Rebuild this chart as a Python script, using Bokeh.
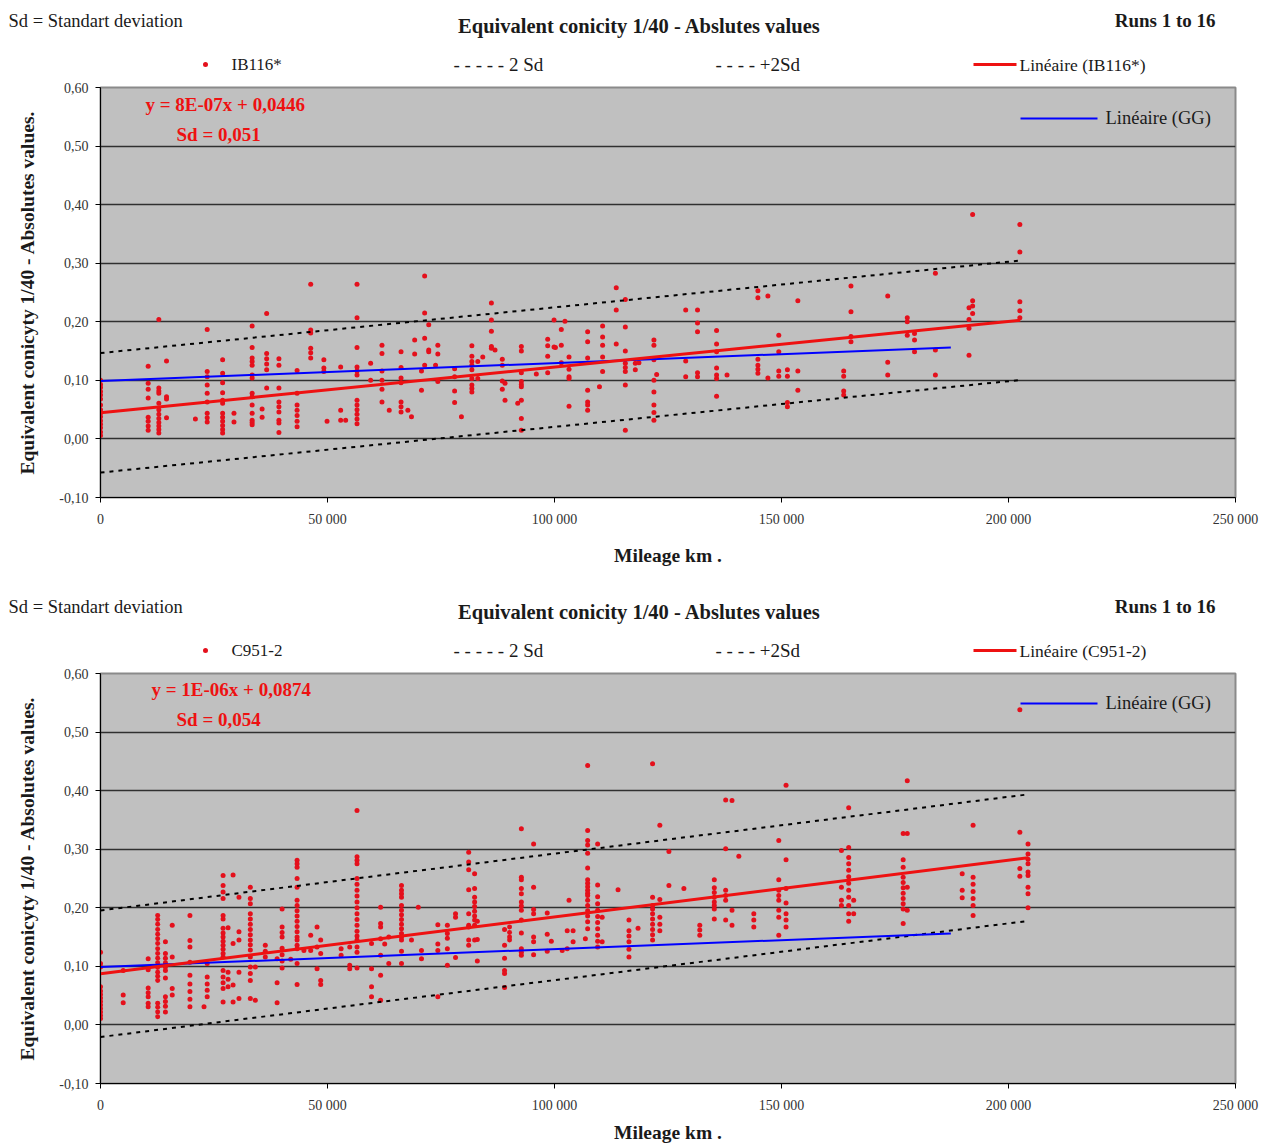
from bokeh.plotting import figure
from bokeh.models import Label, FixedTicker, CustomJSTickFormatter, ColumnDataSource
from bokeh.core.properties import value
from bokeh.layouts import column
from bokeh.embed import file_html
from bokeh.resources import INLINE

# ---------------- data ----------------
x_ticks = [0, 50000, 100000, 150000, 200000, 250000]
y_ticks = [-0.1, 0.0, 0.1, 0.2, 0.3, 0.4, 0.5, 0.6]

# IB116* : mileage stations (km) and the conicity values measured there
ib116_km = [0, 10500, 12850, 14540, 20900, 23500, 26900, 29400, 33400, 35600, 36600, 39300,
            43300, 46300, 49200, 49900, 52900, 54000, 56500, 59500, 62000, 63600, 66200,
            67700, 68500, 69200, 70700, 71400, 72300, 73800, 74300, 78000, 79500, 81800,
            83100, 84200, 86100, 86900, 88500, 89100, 91900, 92700, 96000, 98500, 99900,
            100200, 101500, 102300, 103200, 107300, 109900, 110600, 113600, 115600, 117800,
            118600, 121900, 122500, 128900, 131500, 135700, 138000, 144800, 147000, 149400,
            151300, 153600, 163700, 165300, 173400, 177700, 179300, 183900, 191300, 192100,
            202500]
ib116_vals = [
    [0.100, 0.093, 0.088, 0.081, 0.075, 0.068, 0.058, 0.050, 0.044, 0.038, 0.031, 0.025, 0.019, 0.012, 0.006],
    [0.124, 0.095, 0.085, 0.070, 0.037, 0.030, 0.022, 0.015],
    [0.204, 0.087, 0.082, 0.078, 0.061, 0.050, 0.042, 0.035, 0.028, 0.022, 0.016, 0.010],
    [0.133, 0.072, 0.068, 0.036],
    [0.034],
    [0.187, 0.115, 0.106, 0.092, 0.078, 0.063, 0.044, 0.036, 0.029],
    [0.135, 0.112, 0.096, 0.079, 0.066, 0.061, 0.044, 0.037, 0.030, 0.023, 0.016, 0.010],
    [0.044, 0.029],
    [0.193, 0.156, 0.138, 0.132, 0.126, 0.109, 0.104, 0.078, 0.072, 0.058, 0.044, 0.032, 0.028, 0.024],
    [0.051, 0.037],
    [0.214, 0.146, 0.137, 0.128, 0.118, 0.087],
    [0.137, 0.126, 0.087, 0.063, 0.055, 0.046, 0.032, 0.027, 0.011],
    [0.117, 0.078, 0.058, 0.049, 0.040, 0.030, 0.021],
    [0.264, 0.186, 0.181, 0.155, 0.147, 0.138],
    [0.135, 0.121, 0.115],
    [0.030],
    [0.123, 0.049, 0.032],
    [0.032],
    [0.264, 0.207, 0.156, 0.123, 0.116, 0.109, 0.066, 0.058, 0.050, 0.042, 0.034, 0.026],
    [0.129, 0.100],
    [0.160, 0.146, 0.116, 0.100, 0.085, 0.063],
    [0.049],
    [0.149, 0.122, 0.104, 0.096, 0.063, 0.055, 0.046],
    [0.049],
    [0.038],
    [0.169, 0.145],
    [0.116, 0.083],
    [0.278, 0.215, 0.172, 0.126],
    [0.195, 0.152, 0.149],
    [0.126],
    [0.160, 0.145, 0.098],
    [0.120, 0.106, 0.082, 0.062],
    [0.038],
    [0.159, 0.141, 0.132, 0.126, 0.118, 0.103, 0.092, 0.086, 0.080],
    [0.132, 0.103],
    [0.140],
    [0.232, 0.203, 0.184, 0.158, 0.155],
    [0.152],
    [0.136, 0.126, 0.099, 0.085],
    [0.095, 0.066],
    [0.061],
    [0.158, 0.150, 0.113, 0.098, 0.093, 0.089, 0.066, 0.035, 0.015],
    [0.111],
    [0.170, 0.159, 0.141, 0.113],
    [0.203, 0.157],
    [0.156],
    [0.187, 0.160, 0.130],
    [0.201],
    [0.140, 0.119, 0.106, 0.103, 0.056],
    [0.183, 0.166, 0.138, 0.083, 0.063, 0.058, 0.049],
    [0.089],
    [0.193, 0.174, 0.160, 0.140, 0.115],
    [0.258, 0.220, 0.162],
    [0.238, 0.191, 0.150, 0.129, 0.122, 0.115, 0.092, 0.015],
    [0.129, 0.118],
    [0.130],
    [0.169, 0.160, 0.135, 0.100, 0.080, 0.058, 0.045, 0.032],
    [0.110],
    [0.220, 0.133, 0.106],
    [0.220, 0.198, 0.183, 0.113, 0.106],
    [0.185, 0.162, 0.149, 0.121, 0.109, 0.103, 0.073],
    [0.109],
    [0.253, 0.241, 0.136, 0.126, 0.119, 0.112],
    [0.244, 0.104],
    [0.177, 0.149, 0.116, 0.107],
    [0.118, 0.107, 0.062, 0.055],
    [0.236, 0.116, 0.083],
    [0.116, 0.107, 0.082, 0.075],
    [0.261, 0.217, 0.175, 0.166],
    [0.244, 0.131, 0.109],
    [0.207, 0.200, 0.177],
    [0.180, 0.169, 0.149],
    [0.283, 0.152, 0.109],
    [0.224, 0.204, 0.189, 0.143],
    [0.383, 0.236, 0.227, 0.214],
    [0.366, 0.319, 0.234, 0.219, 0.207],
]

# C951-2
c951_km = [0, 5000, 10500, 12600, 14300, 15800, 19700, 22800, 23500, 27000, 28100, 29200, 30500,
           33000, 34100, 36300, 38900, 40000, 41900, 43300, 44800, 46300, 47700, 48500, 53000,
           54900, 56500, 59700, 61700, 62600, 63500, 66300, 68500, 70000, 70700, 74300, 76400,
           78200, 81100, 82400, 83000, 89000, 90100, 92700, 95400, 98400, 99300, 101700, 102800,
           103200, 104100, 106800, 107300, 109500, 110500, 114000, 116400, 118400, 121600,
           123200, 125200, 128500, 132000, 135200, 137700, 139100, 140600, 143900, 149400,
           151000, 163200, 164800, 165900, 176800, 177700, 189800, 192200, 202500, 204300]
c951_vals = [
    [0.124, 0.105, 0.099, 0.065, 0.058, 0.052, 0.046, 0.040, 0.034, 0.028, 0.022, 0.016, 0.011],
    [0.093, 0.051, 0.038],
    [0.113, 0.094, 0.063, 0.055, 0.048, 0.037, 0.031],
    [0.187, 0.180, 0.172, 0.163, 0.155, 0.147, 0.139, 0.130, 0.122, 0.114, 0.106, 0.098, 0.090, 0.083, 0.076, 0.037, 0.030, 0.022, 0.014],
    [0.142, 0.122, 0.114, 0.106, 0.099, 0.093, 0.080, 0.048, 0.040, 0.032, 0.022],
    [0.170, 0.116, 0.062, 0.051],
    [0.187, 0.144, 0.133, 0.107, 0.085, 0.070, 0.057, 0.044, 0.031],
    [0.031],
    [0.105, 0.082, 0.070, 0.059, 0.048],
    [0.255, 0.238, 0.227, 0.216, 0.187, 0.181, 0.165, 0.157, 0.150, 0.143, 0.136, 0.129, 0.122, 0.116, 0.093, 0.082, 0.072, 0.062, 0.039],
    [0.166, 0.090, 0.078, 0.065],
    [0.256, 0.139, 0.068, 0.039],
    [0.218, 0.159, 0.145, 0.090, 0.045],
    [0.235, 0.216, 0.207, 0.190, 0.181, 0.172, 0.163, 0.154, 0.145, 0.137, 0.128, 0.116, 0.099, 0.088, 0.076, 0.045],
    [0.099, 0.042],
    [0.136, 0.126, 0.116],
    [0.113, 0.072, 0.038],
    [0.198, 0.167, 0.158, 0.150, 0.131, 0.120, 0.109, 0.097],
    [0.112],
    [0.281, 0.275, 0.269, 0.250, 0.235, 0.213, 0.204, 0.195, 0.186, 0.177, 0.168, 0.159, 0.150, 0.145, 0.136, 0.130, 0.105, 0.069],
    [0.127],
    [0.153, 0.127],
    [0.167, 0.133, 0.096],
    [0.145, 0.122, 0.076, 0.069],
    [0.130, 0.119],
    [0.133, 0.102, 0.096],
    [0.366, 0.287, 0.281, 0.275, 0.250, 0.240, 0.230, 0.220, 0.210, 0.200, 0.190, 0.180, 0.170, 0.160, 0.152, 0.145, 0.133, 0.124, 0.097],
    [0.139, 0.096, 0.065, 0.048],
    [0.201, 0.173, 0.167, 0.147, 0.119, 0.085, 0.042],
    [0.138],
    [0.150, 0.105],
    [0.238, 0.230, 0.224, 0.218, 0.204, 0.196, 0.188, 0.180, 0.172, 0.164, 0.156, 0.150, 0.145, 0.126, 0.105],
    [0.145],
    [0.201],
    [0.127, 0.113],
    [0.171, 0.138, 0.127, 0.048],
    [0.170, 0.156, 0.148, 0.130, 0.102],
    [0.190, 0.184, 0.115],
    [0.295, 0.278, 0.265, 0.231, 0.190, 0.170, 0.167, 0.145, 0.136],
    [0.258, 0.233, 0.218, 0.210, 0.202, 0.194, 0.186, 0.179, 0.170, 0.145],
    [0.177, 0.146, 0.109],
    [0.163, 0.136, 0.114, 0.093, 0.088, 0.064],
    [0.167, 0.158, 0.150, 0.145],
    [0.335, 0.252, 0.248, 0.233, 0.224, 0.210, 0.203, 0.196, 0.179, 0.157, 0.130, 0.124, 0.119],
    [0.309, 0.235, 0.197, 0.190, 0.150, 0.142, 0.120],
    [0.191, 0.155, 0.126],
    [0.143],
    [0.127],
    [0.161, 0.130],
    [0.213],
    [0.161, 0.142],
    [0.147],
    [0.443, 0.332, 0.315, 0.307, 0.293, 0.268, 0.248, 0.242, 0.236, 0.230, 0.225, 0.221, 0.213, 0.204, 0.195, 0.186, 0.176, 0.164],
    [0.309, 0.239, 0.219, 0.207, 0.196, 0.185, 0.175, 0.164, 0.153, 0.143, 0.133],
    [0.184, 0.142],
    [0.231],
    [0.179, 0.161, 0.152, 0.142, 0.129, 0.116],
    [0.165],
    [0.446, 0.218, 0.204, 0.198, 0.190, 0.181, 0.172, 0.163, 0.154, 0.145],
    [0.341, 0.214, 0.184, 0.172, 0.161],
    [0.296, 0.238],
    [0.233],
    [0.170, 0.162, 0.153],
    [0.248, 0.234, 0.226, 0.218, 0.210, 0.204, 0.198, 0.181],
    [0.384, 0.301, 0.230, 0.221, 0.213, 0.179],
    [0.383, 0.196, 0.170],
    [0.288],
    [0.190, 0.179, 0.167],
    [0.315, 0.248, 0.230, 0.221, 0.213, 0.196, 0.184, 0.153],
    [0.409, 0.282, 0.233, 0.208, 0.190, 0.179, 0.167],
    [0.298, 0.235, 0.213, 0.204],
    [0.371, 0.303, 0.286, 0.275, 0.264, 0.253, 0.242, 0.230, 0.218, 0.204, 0.190, 0.177],
    [0.213, 0.190],
    [0.327, 0.282, 0.269, 0.252, 0.243, 0.234, 0.225, 0.216, 0.207, 0.198, 0.173],
    [0.417, 0.327, 0.235, 0.196],
    [0.258, 0.230, 0.217],
    [0.341, 0.252, 0.240, 0.228, 0.216, 0.204, 0.187],
    [0.538, 0.329, 0.267, 0.254],
    [0.309, 0.292, 0.283, 0.275, 0.261, 0.255, 0.235, 0.224, 0.200],
]

# linear trends (intercept, slope), standard deviations, last mileage of the trends
ib116_trend = (0.0446, 7.8e-7)
ib116_sd = 0.051
ib116_end = 202600
c951_trend = (0.0874, 9.7e-7)
c951_sd = 0.054
c951_end = 204300
gg_trend = (0.099, 3.05e-7)
gg_end = 187300

SERIF = "Liberation Serif"
RED = "#ee1111"
PT_RED = "#e4101c"
INK = "#1a1a1a"
W = 1268
HEAD_H = 80


def flatten(kms, vals):
    xs, ys = [], []
    for k, vs in zip(kms, vals):
        for v in vs:
            xs.append(k)
            ys.append(v)
    return xs, ys


def txt(p, x, y, text, size, bold=False, color=INK, align="left"):
    p.text(x=[x], y=[y], text=[text], text_font=value(SERIF), text_font_size=value(size),
           text_font_style="bold" if bold else "normal", text_color=color,
           text_align=align, text_baseline="middle")


def make_header(name):
    # header strip in pixel space (y grows downward)
    h = figure(width=W, height=HEAD_H, x_range=(0, W), y_range=(HEAD_H, 0),
               output_backend="svg", toolbar_location=None,
               x_axis_location=None, y_axis_location=None,
               min_border=0, min_border_left=0, min_border_right=0,
               min_border_top=0, min_border_bottom=0)
    h.frame_align = False
    h.outline_line_color = None
    h.background_fill_color = "white"
    h.border_fill_color = "white"
    h.grid.visible = False
    txt(h, 8, 20, "Sd = Standart deviation", "18.5px")
    txt(h, 639, 25, "Equivalent conicity 1/40 - Abslutes values", "20.5px", bold=True, align="center")
    txt(h, 1215, 20, "Runs 1 to 16", "19px", bold=True, align="right")
    h.scatter([205], [64], size=5, marker="circle", fill_color=PT_RED, line_color=None)
    txt(h, 231, 64, name, "17px")
    txt(h, 453, 64, "- - - - - 2 Sd", "19px")
    txt(h, 715, 64, "- - - - +2Sd", "19px")
    h.line([973, 1016], [64, 64], line_color=RED, line_width=3)
    txt(h, 1019, 64, "Linéaire (" + name + ")", "17.5px")
    return h


def make_panel(name, kms, vals, trend, sd, tend, eq_txt, sd_txt, bottom, xlab_standoff, offs):
    top = 87 - HEAD_H
    height = top + 410 + bottom
    p = figure(width=W, height=height, x_range=(0, 250000), y_range=(-0.1, 0.6),
               output_backend="svg", toolbar_location=None,
               min_border_left=100, min_border_right=33, min_border_top=top,
               min_border_bottom=bottom)
    p.background_fill_color = "#c0c0c0"
    p.border_fill_color = "white"
    p.outline_line_color = "#8a8a8a"
    p.outline_line_width = 2

    p.xaxis.ticker = FixedTicker(ticks=x_ticks)
    p.yaxis.ticker = FixedTicker(ticks=y_ticks)
    p.xaxis.formatter = CustomJSTickFormatter(
        code="return tick == 0 ? '0' : (tick/1000).toFixed(0) + ' 000';")
    p.yaxis.formatter = CustomJSTickFormatter(
        code="return tick.toFixed(2).replace('.', ',');")
    for ax in (p.xaxis[0], p.yaxis[0]):
        ax.major_label_text_font = SERIF
        ax.major_label_text_font_size = "14px"
        ax.major_label_text_color = "#333333"
        ax.major_tick_in = 0
        ax.major_tick_out = 5
        ax.minor_tick_in = 0
        ax.minor_tick_out = 0
        ax.axis_line_color = "black"
        ax.major_tick_line_color = "black"
        ax.axis_label_text_font = SERIF
        ax.axis_label_text_font_size = "19.5px"
        ax.axis_label_text_font_style = "bold"
        ax.axis_label_text_color = INK
    p.xaxis.major_label_standoff = 9
    p.yaxis.major_label_standoff = 7
    p.xaxis.axis_label = "Mileage km ."
    p.yaxis.axis_label = "Equivalent conicyty 1/40 - Absolutes values."
    p.xaxis.axis_label_standoff = xlab_standoff
    p.yaxis.axis_label_standoff = 18
    p.xgrid.visible = False
    p.ygrid.grid_line_color = "#303030"
    p.ygrid.grid_line_width = 1.5

    xs, ys = flatten(kms, vals)
    src = ColumnDataSource(dict(x=xs, y=ys))
    p.scatter("x", "y", source=src, size=5, marker="circle",
              fill_color=PT_RED, line_color=None)

    b0, b1 = trend
    tx = [0, tend]
    for sgn in (1, -1):
        p.line(tx, [b0 + b1 * t + sgn * 2 * sd for t in tx], line_color="black",
               line_width=2, line_dash="4 5")
    gx = [0, gg_end]
    p.line(gx, [gg_trend[0] + gg_trend[1] * t for t in gx], line_color="#0000ff", line_width=2)
    p.line(tx, [b0 + b1 * t for t in tx], line_color=RED, line_width=3)

    # in-frame annotations, positioned from page pixels of the panel
    def dx(px):
        return (px - 100) / 1135 * 250000

    def dy(py):
        return 0.6 - (py - 87) / 410 * 0.7

    def lab(px, py, text, size, bold=False, color=INK):
        p.add_layout(Label(x=dx(px), y=dy(py), text=text, text_font=SERIF,
                           text_font_size=size, text_font_style="bold" if bold else "normal",
                           text_color=color, text_align="left", text_baseline="middle"))

    p.line([dx(1020), dx(1097)], [dy(118 + offs)] * 2, line_color="#0000ff", line_width=2)
    lab(1105, 117 + offs, "Linéaire (GG)", "18.5px")
    lab(eq_txt[1], 104 + offs, eq_txt[0], "19px", bold=True, color=RED)
    lab(176, 134 + offs, sd_txt, "19px", bold=True, color=RED)
    return p


h1 = make_header("IB116*")
p1 = make_panel("IB116*", ib116_km, ib116_vals, ib116_trend, ib116_sd, ib116_end,
                ("y = 8E-07x + 0,0446", 145), "Sd = 0,051", 89, 15, 0)
h2 = make_header("C951-2")
p2 = make_panel("C951-2", c951_km, c951_vals, c951_trend, c951_sd, c951_end,
                ("y = 1E-06x + 0,0874", 151), "Sd = 0,054", 62, 6, -1)

layout = column(h1, p1, h2, p2, spacing=0)
open("out.html", "w").write(file_html(layout, INLINE))
